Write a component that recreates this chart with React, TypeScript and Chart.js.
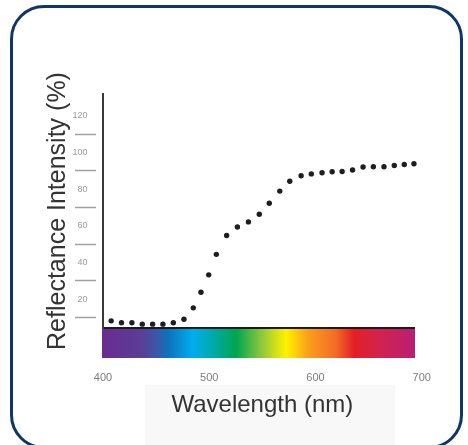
import React, { useEffect, useRef } from 'react';
import { Chart, registerables } from 'chart.js';

Chart.register(...registerables);

// ---- data ----
const wavelengthNm = [
  407.7, 417.4, 427.2, 437.0, 446.7, 456.4, 466.2, 476.2, 485.0, 492.2, 499.5,
  506.7, 516.4, 526.5, 536.9, 547.1, 556.5, 566.4, 575.8, 586.5, 596.1, 606.2,
  615.7, 625.1, 634.9, 644.8, 654.5, 664.5, 674.2, 683.6, 692.7,
];
const reflectancePct = [
  8.2, 7.2, 7.2, 6.4, 6.4, 6.4, 7.2, 9.1, 15.3, 23.8, 33.3,
  44.5, 54.8, 59.4, 62.2, 66.4, 72.4, 79.0, 84.4, 87.4, 88.4, 89.0,
  89.6, 89.7, 90.5, 92.2, 92.3, 92.3, 93.0, 93.5, 93.9,
];
const yTickValues = [20, 40, 60, 80, 100, 120];
const xLabelValues = [400, 500, 600, 700];
const xRange = [400, 700];
const yRange = [4.3, 132];
const spectrumRangeNm = [400, 692];
const spectrumStepNm = 2;
const xTitle = 'Wavelength (nm)';
const yTitle = 'Reflectance Intensity (%)';

// ---- styles ----
const FONT = '"Liberation Sans", Arial, Helvetica, sans-serif';
const spectrumStops: [number, string][] = [
  [0, '#6a2c90'],
  [0.12, '#5a3d97'],
  [0.17, '#3f55a4'],
  [0.21, '#0d72ba'],
  [0.29, '#00aeef'],
  [0.365, '#00a99d'],
  [0.43, '#00a651'],
  [0.51, '#8dc63f'],
  [0.59, '#fff200'],
  [0.66, '#f9a11b'],
  [0.75, '#f26c25'],
  [0.81, '#e31f26'],
  [0.89, '#d2234c'],
  [1, '#bb1e72'],
];

function spectrumGradient(c: any) {
  const scale = c.scale;
  const x0 = scale.getPixelForValue(spectrumRangeNm[0]);
  const x1 = scale.getPixelForValue(spectrumRangeNm[1]);
  const g = c.chart.ctx.createLinearGradient(x0, 0, x1, 0);
  spectrumStops.forEach(([o, col]) => g.addColorStop(o, col));
  return g;
}

// dark top edge of the spectrum band, ending where the band ends
function bandEdge(c: any) {
  const scale = c.scale;
  if (!scale || !scale.chart) return '#1a1a1a';
  const left = scale.left;
  const right = scale.right;
  const end = scale.getPixelForValue(spectrumRangeNm[1]) + 1.5;
  const f = Math.max(0, Math.min(1, (end - left) / Math.max(1, right - left)));
  const g = c.chart.ctx.createLinearGradient(left, 0, right, 0);
  g.addColorStop(0, '#1a1a1a');
  g.addColorStop(f, '#1a1a1a');
  g.addColorStop(Math.min(1, f + 0.001), 'rgba(0,0,0,0)');
  g.addColorStop(1, 'rgba(0,0,0,0)');
  return g;
}

export default function App() {
  const ref = useRef<HTMLCanvasElement>(null);

  useEffect(() => {
    if (!ref.current) return;
    Chart.defaults.font.family = FONT;
    const chart = new Chart(ref.current, {
      type: 'scatter',
      data: {
        datasets: [
          {
            label: 'Reflectance',
            data: wavelengthNm.map((x, i) => ({ x, y: reflectancePct[i] })),
            backgroundColor: '#1e1e1e',
            borderColor: '#1e1e1e',
            pointRadius: 2.7,
            pointBorderWidth: 0,
            showLine: false,
          },
        ],
      },
      options: {
        animation: false,
        responsive: true,
        maintainAspectRatio: false,
        layout: { padding: { left: 43, top: 94, right: 46.3, bottom: 25.6 } },
        plugins: { legend: { display: false }, tooltip: { enabled: false } },
        scales: {
          x: {
            type: 'linear',
            position: 'bottom',
            min: xRange[0],
            max: xRange[1],
            afterBuildTicks: (s: any) => {
              const t: any[] = [];
              for (let v = spectrumRangeNm[0]; v <= spectrumRangeNm[1]; v += spectrumStepNm) t.push({ value: v });
              xLabelValues.forEach((v) => {
                if (v > spectrumRangeNm[1]) t.push({ value: v });
              });
              s.ticks = t;
            },
            afterFit: (s: any) => {
              s.height = 91.4;
            },
            border: { display: true, color: (c: any) => bandEdge(c), width: 2 },
            grid: {
              display: true,
              drawOnChartArea: false,
              drawTicks: true,
              tickLength: 30,
              tickWidth: 3,
              tickColor: (c: any) =>
                c.tick && c.tick.value <= spectrumRangeNm[1] ? spectrumGradient(c) : 'transparent',
            },
            ticks: {
              autoSkip: false,
              maxRotation: 0,
              minRotation: 0,
              padding: 13,
              color: '#7c7c7c',
              font: { size: 11, family: FONT },
              callback: (v: any) => (xLabelValues.includes(Number(v)) ? String(v) : ''),
            },
            title: {
              display: true,
              text: xTitle,
              color: '#333333',
              font: { size: 24, family: FONT },
              padding: 0,
            },
          },
          y: {
            type: 'linear',
            position: 'left',
            min: yRange[0],
            max: yRange[1],
            afterBuildTicks: (s: any) => {
              s.ticks = yTickValues.map((v) => ({ value: v }));
            },
            afterFit: (s: any) => {
              s.width = 60;
            },
            border: { display: true, color: '#3a3a3a', width: 2 },
            grid: {
              display: true,
              offset: true,
              drawOnChartArea: false,
              drawTicks: true,
              tickLength: 28,
              tickWidth: 1.5,
              tickColor: (c: any) => (c.tick ? '#a0a0a0' : 'transparent'),
              tickBorderDash: [21, 60],
            },
            ticks: {
              padding: -12.5,
              color: '#9a9a9a',
              font: { size: 9, family: FONT },
            },
            title: {
              display: true,
              text: yTitle,
              color: '#333333',
              font: { size: 25, family: FONT },
              padding: 0,
            },
          },
        },
      },
    } as any);
    return () => chart.destroy();
  }, []);

  return (
    <div
      style={{
        position: 'fixed',
        left: 0,
        top: 0,
        width: 468,
        height: 445,
        overflow: 'hidden',
        background: '#ffffff',
      }}
    >
      <div
        style={{
          position: 'absolute',
          left: 10,
          top: 5,
          width: 453,
          height: 444,
          border: '3px solid #0f3765',
          borderRadius: 34,
          boxSizing: 'border-box',
        }}
      />
      <div
        style={{
          position: 'absolute',
          left: 145,
          top: 385,
          width: 250,
          height: 60,
          background: '#f8f8f8',
        }}
      />
      <div style={{ position: 'absolute', left: 0, top: 0, width: 468, height: 445 }}>
        <canvas ref={ref} />
      </div>
    </div>
  );
}
